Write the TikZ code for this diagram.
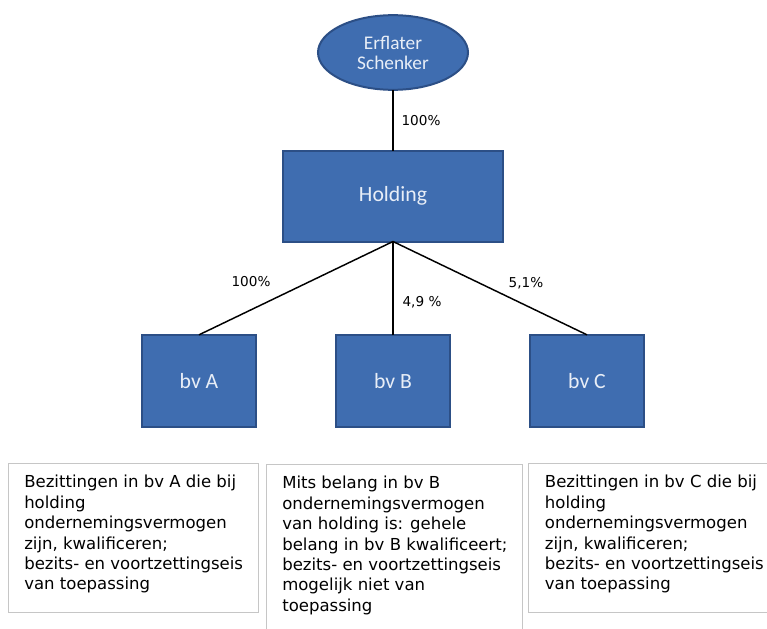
\documentclass[tikz,border=0pt]{standalone}
\usepackage{fontspec}
\setmainfont{DejaVu Sans}
\newfontfamily\shapefont{Carlito}
\usetikzlibrary{positioning,shapes.geometric}
\definecolor{boxblue}{HTML}{3F6DB0}
\definecolor{boxedge}{HTML}{2C4F86}
\definecolor{boxtext}{HTML}{E8EEF7}
\definecolor{noteedge}{HTML}{C6C6C6}

\begin{document}
\begin{tikzpicture}[x=0.75pt, y=-0.75pt,
entity/.style = {rectangle, draw=boxedge, fill=boxblue,
                 line width=1.5pt, text=boxtext,
                 font=\shapefont\fontsize{16.3}{18}\selectfont,
                 inner sep=0pt, outer sep=0pt},
owner/.style  = {ellipse, draw=boxedge, fill=boxblue,
                 line width=1.5pt, text=boxtext, align=center,
                 font=\shapefont\fontsize{14.5}{15}\selectfont,
                 minimum width=112.5pt, minimum height=56pt,
                 inner sep=0pt, outer sep=0pt},
pct/.style    = {font=\fontsize{10.2}{12}\selectfont, inner sep=0pt},
note/.style   = {rectangle, draw=noteedge, line width=1.1pt,
                 anchor=north west, inner sep=0pt},
notetext/.style = {align=left, inner sep=0pt,
                   font=\fontsize{12.4}{15.3}\selectfont},
link/.style   = {line width=1.1pt},
node distance = 60pt,
]
\useasboundingbox (0,0) rectangle (767,628);
\clip (0,0) rectangle (767,628);
        \node (holding) [entity, minimum width=165pt, minimum height=68.25pt]
              at (393,196) {Holding};
        \node (erflater) [owner, above=45.5pt of holding] {Erflater\\Schenker};
        \draw[link] (erflater) -- (holding);
        \node (pctE) [pct] at (421,121) {100\%};
        % subsidiaries
        \node (bvB) [entity, minimum width=85.5pt, minimum height=69pt,
                     below=70pt of holding] {bv B};
        \node (bvA) [entity, minimum width=85.5pt, minimum height=69pt,
                     left=of bvB] {bv A};
        \node (bvC) [entity, minimum width=85.5pt, minimum height=69pt,
                     right=of bvB] {bv C};
        \draw[link] (holding.south) -- (bvA.north);
        \draw[link] (holding.south) -- (bvB.north);
        \draw[link] (holding.south) -- (bvC.north);
        \node (pctA) [pct] at (251,282) {100\%};
        \node (pctB) [pct] at (422,302) {4,9 \%};
        \node (pctC) [pct] at (526,283) {5,1\%};
        % notes
        \node (noteA) [note, minimum width=187.5pt, minimum height=111.75pt]
              at (8,463) {};
        \node (noteB) [note, minimum width=192pt, minimum height=135pt]
              at (266,464) {};
        \node (noteC) [note, minimum width=190pt, minimum height=111.75pt]
              at (528,463) {};
        \node (txtA) [notetext, below right=9pt and 12pt of noteA.north west]
              {Bezittingen in bv A die bij\\holding\\ondernemingsvermogen\\
               zijn, kwalificeren;\\bezits- en voortzettingseis\\van toepassing};
        \node (txtB) [notetext, below right=9pt and 12pt of noteB.north west]
              {Mits belang in bv B\\ondernemingsvermogen\\van holding is: gehele\\
               belang in bv B kwalificeert;\\bezits- en voortzettingseis\\
               mogelijk niet van\\toepassing};
        \node (txtC) [notetext, below right=9pt and 12.5pt of noteC.north west]
              {Bezittingen in bv C die bij\\holding\\ondernemingsvermogen\\
               zijn, kwalificeren;\\bezits- en voortzettingseis\\van toepassing};
\end{tikzpicture}
\end{document}
